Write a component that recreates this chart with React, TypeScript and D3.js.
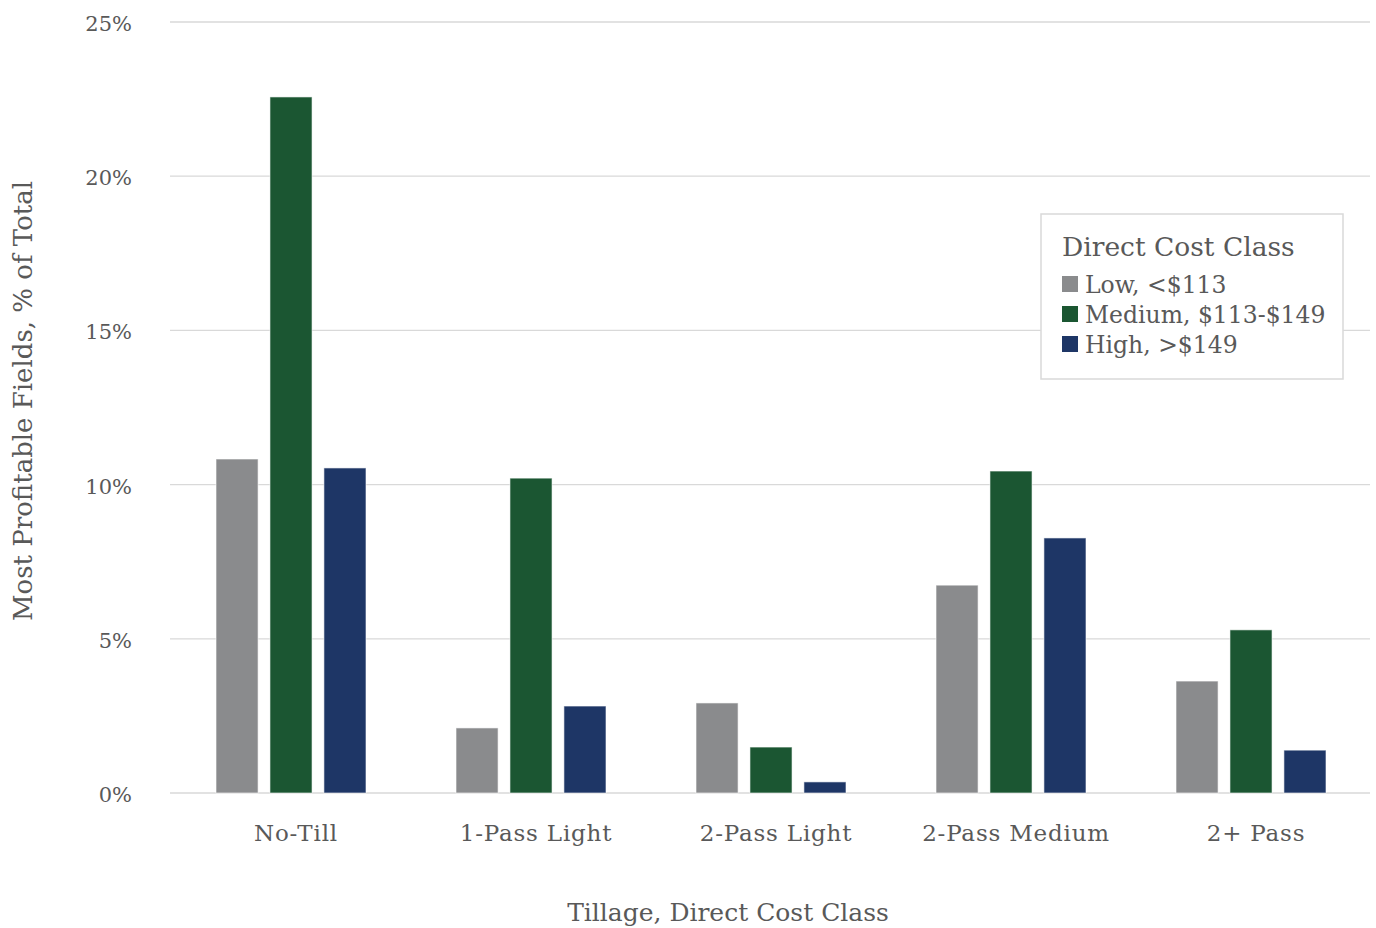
import React from "react";
import * as d3 from "d3";

const categories = ["No-Till", "1-Pass Light", "2-Pass Light", "2-Pass Medium", "2+ Pass"];
const seriesNames = ["Low, <$113", "Medium, $113-$149", "High, >$149"];
const lowValues = [10.83, 2.11, 2.92, 6.74, 3.63];
const mediumValues = [22.57, 10.21, 1.49, 10.44, 5.29];
const highValues = [10.54, 2.82, 0.36, 8.27, 1.39];
const colors = ["#8a8b8d", "#1b5632", "#1e3666"];
const yTicks = [0, 5, 10, 15, 20, 25];

const W = 1376;
const H = 928;
const FONT = "'DejaVu Serif', 'Liberation Serif', serif";
const TEXT = "#595959";

export default function App() {
  const values = [lowValues, mediumValues, highValues];
  const x0 = d3.scaleBand<string>().domain(categories).range([170, 1370]).padding(0);
  const x1 = d3.scaleBand<string>().domain(seriesNames).range([46, 196]).paddingInner(0.22).paddingOuter(0);
  const y = d3.scaleLinear().domain([0, 25]).range([793, 22]);

  return (
    <svg width={W} height={H} style={{ position: "absolute", left: 0, top: 0, background: "#fff" }}>
      {yTicks.map((t) => (
        <g key={t}>
          <line x1={170} x2={1370} y1={y(t)} y2={y(t)} stroke="#d9d9d9" strokeWidth={1.3} />
          <text x={132} y={y(t) + 9} textAnchor="end" fontFamily={FONT} fontSize={21} fill={TEXT}>
            {t}%
          </text>
        </g>
      ))}
      {categories.map((c, i) => (
        <g key={c} transform={`translate(${x0(c)},0)`}>
          {seriesNames.map((s, j) => (
            <rect
              key={s}
              x={x1(s)}
              y={y(values[j][i])}
              width={x1.bandwidth()}
              height={y(0) - y(values[j][i])}
              fill={colors[j]}
              stroke="#ffffff"
              strokeOpacity={0.6}
              strokeWidth={1}
            />
          ))}
          <text
            x={x0.bandwidth() / 2 + 6}
            y={841}
            textAnchor="middle"
            fontFamily={FONT}
            fontSize={23}
            letterSpacing={0.8}
            fill={TEXT}
          >
            {c}
          </text>
        </g>
      ))}
      <text x={728} y={921} textAnchor="middle" fontFamily={FONT} fontSize={25} fill={TEXT}>
        Tillage, Direct Cost Class
      </text>
      <text
        transform={`translate(32,401) rotate(-90)`}
        textAnchor="middle"
        fontFamily={FONT}
        fontSize={26}
        fill={TEXT}
      >
        Most Profitable Fields, % of Total
      </text>
      <g>
        <rect x={1041} y={214} width={302} height={165} fill="#fff" stroke="#d9d9d9" strokeWidth={1.5} />
        <text x={1062} y={256} fontFamily={FONT} fontSize={26.5} fill={TEXT}>
          Direct Cost Class
        </text>
        {seriesNames.map((s, j) => (
          <g key={s}>
            <rect x={1062} y={276 + j * 30} width={16} height={16} fill={colors[j]} />
            <text x={1085} y={293 + j * 30} fontFamily={FONT} fontSize={23.5} fill={TEXT}>
              {s}
            </text>
          </g>
        ))}
      </g>
    </svg>
  );
}
